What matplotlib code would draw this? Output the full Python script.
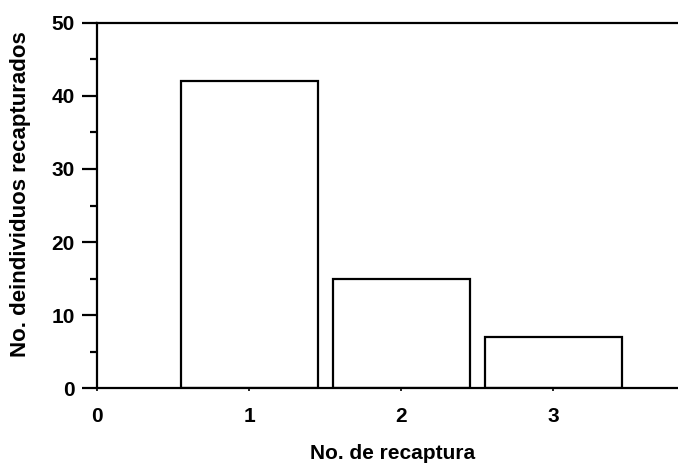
import matplotlib
matplotlib.use("Agg")
import matplotlib.pyplot as plt
from matplotlib.ticker import MultipleLocator

plt.rcParams["font.family"] = ["Liberation Sans", "DejaVu Sans"]
plt.rcParams["font.weight"] = "bold"

# datos
recaptura = [1, 2, 3]
individuos = [42, 15, 7]
x_ticks = [0, 1, 2, 3]

fig = plt.figure(figsize=(6.78, 4.66), dpi=100)
ax = fig.add_axes([0.143, 0.167, 0.857, 0.784])

ax.bar(recaptura, individuos, width=0.9, facecolor="white",
       edgecolor="black", linewidth=1.6)

ax.set_xlim(0, 3.82)
ax.set_ylim(0, 50)
ax.set_xticks(x_ticks)
ax.yaxis.set_major_locator(MultipleLocator(10))
ax.yaxis.set_minor_locator(MultipleLocator(5))

for s in ["left", "top", "bottom"]:
    ax.spines[s].set_linewidth(1.6)
ax.spines["right"].set_visible(False)

ax.tick_params(axis="y", which="major", direction="out", length=11, width=1.6,
               labelsize=15, pad=5)
ax.tick_params(axis="y", which="minor", direction="out", length=5, width=1.6)
ax.tick_params(axis="x", which="major", direction="out", length=2.5, width=1.2,
               labelsize=15, pad=11)

ax.set_xlabel("No. de recaptura", fontsize=15, fontweight="bold")
ax.set_ylabel("No. deindividuos recapturados", fontsize=16, fontweight="bold")
ax.xaxis.set_label_coords(0.509, -0.152)
ax.yaxis.set_label_coords(-0.113, 0.53)

fig.savefig("out.png", dpi=100)
